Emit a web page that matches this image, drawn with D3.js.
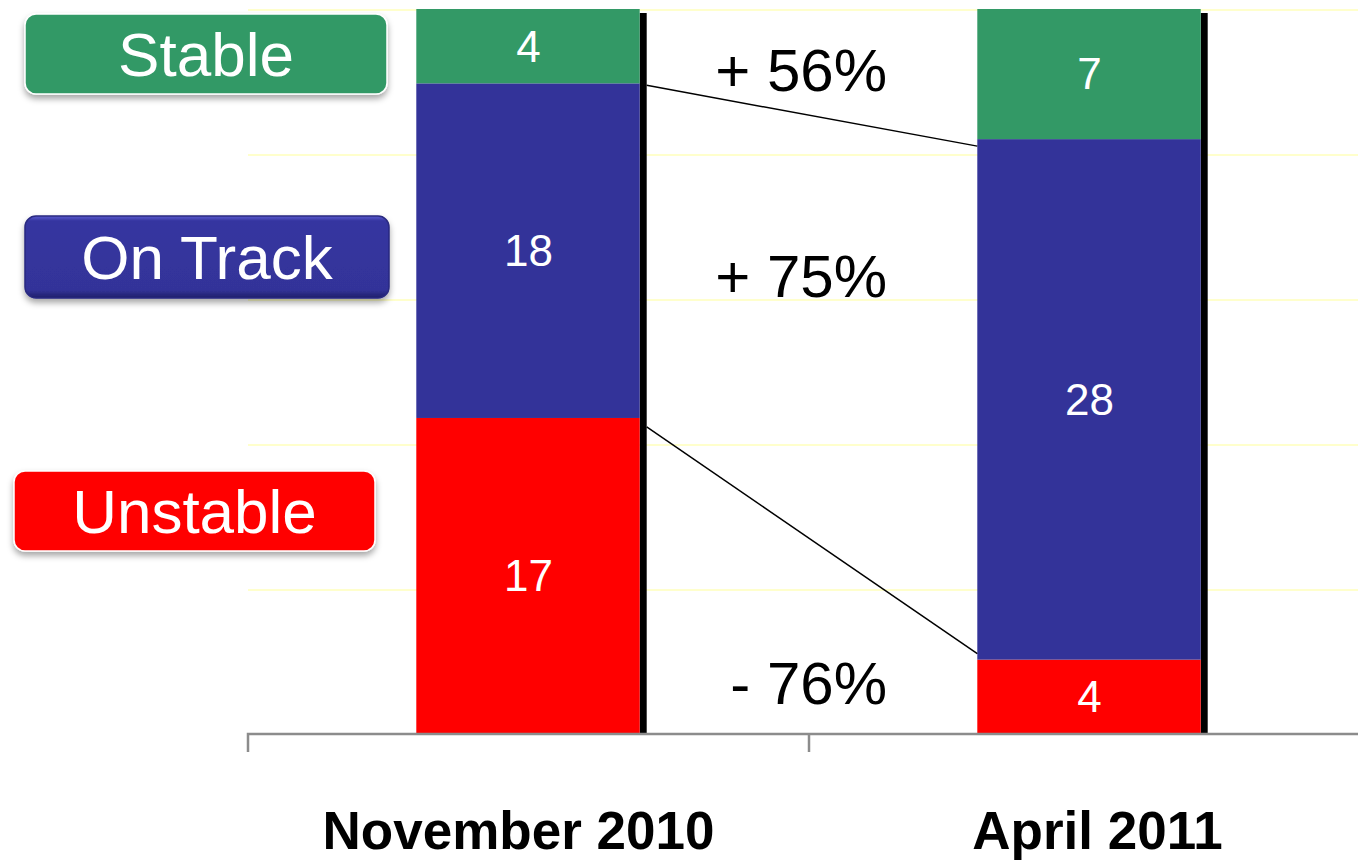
<!DOCTYPE html>
<html>
<head>
<meta charset="utf-8">
<script src="https://cdn.jsdelivr.net/npm/d3@7"></script>
<style>
  body { margin: 0; background: #fff; }
  svg { display: block; font-family: "Liberation Sans", Arial, Helvetica, sans-serif; }
  .grid line { stroke: #FFFFCC; stroke-width: 2; }
  .x-axis path, .x-axis line { stroke: #8c8c8c; stroke-width: 2.5; }
  .x-axis text { font-weight: bold; font-size: 53px; fill: #000; }
</style>
</head>
<body>
<script>
// set the dimensions of the slide
const SCREEN = { width: 1358, height: 861 };
const PLOT = { left: 248, right: 1370, top: 9, bottom: 734 };

// data
const categories = ['November 2010', 'April 2011'];
const seriesNames = ['Unstable', 'On Track', 'Stable'];
const unstableValues = [17, 4];
const onTrackValues = [18, 28];
const stableValues = [4, 7];
const changeLabels = ['- 76%', '+ 75%', '+ 56%'];
const gridValues = [0, 7.8, 15.6, 23.4, 31.2, 39];

const colors = { 'Unstable': '#FF0000', 'On Track': '#333399', 'Stable': '#339966' };

const rows = categories.map((c, i) => ({
    category: c,
    'Unstable': unstableValues[i],
    'On Track': onTrackValues[i],
    'Stable': stableValues[i]
}));
const stacked = d3.stack().keys(seriesNames)(rows);

const svg = d3.select('body').append('svg')
    .attr('width', SCREEN.width)
    .attr('height', SCREEN.height);

const defs = svg.append('defs');
defs.append('filter').attr('id', 'shadow')
    .attr('x', '-10%').attr('y', '-20%').attr('width', '120%').attr('height', '160%')
  .append('feDropShadow')
    .attr('dx', 0).attr('dy', 4).attr('stdDeviation', 3)
    .attr('flood-color', '#000').attr('flood-opacity', 0.35);
const bevel = defs.append('linearGradient').attr('id', 'bevel')
    .attr('x1', 0).attr('y1', 0).attr('x2', 0).attr('y2', 1);
bevel.append('stop').attr('offset', '0%').attr('stop-color', '#5a5ad0');
bevel.append('stop').attr('offset', '6%').attr('stop-color', '#3636a0');
bevel.append('stop').attr('offset', '90%').attr('stop-color', '#333399');
bevel.append('stop').attr('offset', '100%').attr('stop-color', '#20206a');

// scales
const x = d3.scaleBand()
    .domain(categories)
    .range([PLOT.left, PLOT.right])
    .paddingInner(0.6)
    .paddingOuter(0.3);

const y = d3.scaleLinear()
    .domain([0, 39])
    .range([PLOT.bottom, PLOT.top]);

// gridlines
svg.append('g').attr('class', 'grid')
    .selectAll('line')
    .data(gridValues.slice(1))
    .join('line')
    .attr('x1', PLOT.left).attr('x2', SCREEN.width)
    .attr('y1', d => y(d) + 1).attr('y2', d => y(d) + 1);

// bar shadows (black edge on the right)
const totals = rows.map(r => r['Unstable'] + r['On Track'] + r['Stable']);
svg.append('g').selectAll('rect')
    .data(categories)
    .join('rect')
    .attr('x', d => x(d) + x.bandwidth() - 1)
    .attr('y', (d, i) => y(totals[i]) + 4)
    .attr('width', 7)
    .attr('height', (d, i) => y(0) - y(totals[i]) - 4)
    .attr('fill', '#000');

// stacked bars
const layers = svg.append('g').selectAll('g')
    .data(stacked)
    .join('g')
    .attr('fill', d => colors[d.key]);

layers.selectAll('rect')
    .data(d => d)
    .join('rect')
    .attr('x', d => x(d.data.category))
    .attr('y', d => y(d[1]))
    .attr('width', x.bandwidth() - 1)
    .attr('height', d => y(d[0]) - y(d[1]));

layers.selectAll('text')
    .data(d => d)
    .join('text')
    .attr('x', d => x(d.data.category) + x.bandwidth() / 2)
    .attr('y', d => (y(d[0]) + y(d[1])) / 2)
    .attr('dy', '0.35em')
    .attr('text-anchor', 'middle')
    .attr('fill', '#fff')
    .attr('font-size', 44)
    .text(d => d[1] - d[0]);

// series lines between the bars (boundary below Stable, boundary below On Track)
const connectorOffsets = [[9, -6], [2, 7]];
const boundaries = [stacked[0], stacked[1]];
svg.append('g').selectAll('line')
    .data(boundaries)
    .join('line')
    .attr('x1', x(categories[0]) + x.bandwidth() + 6)
    .attr('y1', (d, i) => y(d[0][1]) + connectorOffsets[i][0])
    .attr('x2', x(categories[1]))
    .attr('y2', (d, i) => y(d[1][1]) + connectorOffsets[i][1])
    .attr('stroke', '#000')
    .attr('stroke-width', 1.5);

// change annotations
const changeBaselines = [704, 297, 91];
svg.append('g').selectAll('text')
    .data(changeLabels)
    .join('text')
    .attr('x', 887)
    .attr('y', (d, i) => changeBaselines[i])
    .attr('text-anchor', 'end')
    .attr('font-size', 60)
    .attr('fill', '#000')
    .text(d => d);

// x axis
const xAxis = d3.axisBottom(x).tickSize(0).tickPadding(0);
const xAxisGroup = svg.append('g')
    .attr('class', 'x-axis')
    .attr('transform', `translate(0,${PLOT.bottom})`)
    .call(xAxis);
xAxisGroup.select('.domain').attr('d', `M${PLOT.left},18V0H${PLOT.right}`);
const labelShift = [-10, 8];
xAxisGroup.selectAll('.tick text')
    .attr('x', (d, i) => labelShift[i])
    .attr('y', 115).attr('dy', 0);
// boundary tick between the categories
xAxisGroup.append('line')
    .attr('x1', x.step() + PLOT.left).attr('x2', x.step() + PLOT.left)
    .attr('y1', 0).attr('y2', 18);

// legend boxes
const legendBoxes = [
    { name: 'Stable', x: 25, y: 14, w: 362, h: 80 },
    { name: 'On Track', x: 25, y: 216, w: 364, h: 82 },
    { name: 'Unstable', x: 14, y: 471, w: 361, h: 80 }
];
const legend = svg.append('g').selectAll('g')
    .data(legendBoxes)
    .join('g')
    .attr('transform', d => `translate(${d.x},${d.y})`);

legend.append('rect')
    .attr('width', d => d.w)
    .attr('height', d => d.h)
    .attr('rx', 11)
    .attr('fill', d => d.name === 'On Track' ? 'url(#bevel)' : colors[d.name])
    .attr('stroke', d => d.name === 'On Track' ? '#2a2a80' : '#fff')
    .attr('stroke-width', 1.5)
    .attr('filter', 'url(#shadow)');

legend.append('text')
    .attr('x', d => d.w / 2)
    .attr('y', d => d.h / 2 + 22)
    .attr('text-anchor', 'middle')
    .attr('fill', '#fff')
    .attr('font-size', 62)
    .text(d => d.name);
</script>
</body>
</html>
